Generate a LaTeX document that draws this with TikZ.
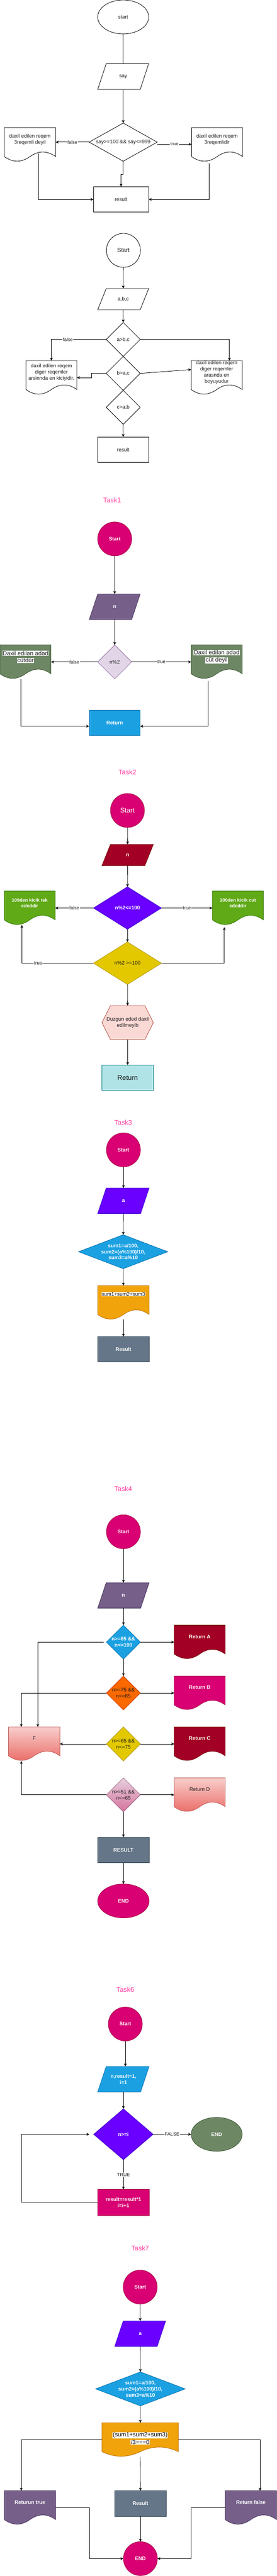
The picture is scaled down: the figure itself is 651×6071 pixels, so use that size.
\documentclass[tikz,border=0pt]{standalone}
\usepackage{fontspec}
\setmainfont{Liberation Sans}
\usetikzlibrary{arrows.meta,calc,shapes.geometric}
\newcommand{\fsz}[2]{\fontsize{#1}{#2}\selectfont}
\newcommand{\hlw}[1]{{\setlength{\fboxsep}{0.6pt}\colorbox{white}{#1}}}
\definecolor{ink}{HTML}{1A1A1A}
\definecolor{taskpink}{HTML}{FF3FA0}
\definecolor{cMag}{HTML}{D80073}\definecolor{cMagS}{HTML}{A50040}
\definecolor{cPur}{HTML}{76608A}\definecolor{cPurS}{HTML}{432D57}
\definecolor{cLil}{HTML}{E1D5E7}\definecolor{cLilS}{HTML}{9673A6}
\definecolor{cOliv}{HTML}{6D8764}\definecolor{cOlivS}{HTML}{3A5431}
\definecolor{cBlue}{HTML}{1BA1E2}\definecolor{cBlueS}{HTML}{006EAF}
\definecolor{cRed}{HTML}{A20025}\definecolor{cRedS}{HTML}{6F0000}
\definecolor{cVio}{HTML}{6A00FF}\definecolor{cVioS}{HTML}{3700CC}
\definecolor{cGrn}{HTML}{60A917}\definecolor{cGrnS}{HTML}{2D7600}
\definecolor{cYel}{HTML}{E3C800}\definecolor{cYelS}{HTML}{B09500}
\definecolor{cHex}{HTML}{FAD9D5}\definecolor{cHexS}{HTML}{AE4132}
\definecolor{cTeal}{HTML}{B0E3E6}\definecolor{cTealS}{HTML}{0E8088}
\definecolor{cOra}{HTML}{F0A30A}\definecolor{cOraS}{HTML}{BD7000}
\definecolor{cSla}{HTML}{647687}\definecolor{cSlaS}{HTML}{314354}
\definecolor{cOr}{HTML}{FA6800}\definecolor{cOrS}{HTML}{C73500}
\definecolor{cPinkT}{HTML}{E6D0DE}\definecolor{cPinkB}{HTML}{D5739D}\definecolor{cPinkS}{HTML}{996185}
\definecolor{cRgT}{HTML}{F8CECC}\definecolor{cRgB}{HTML}{EA6B66}\definecolor{cRgS}{HTML}{B85450}
\tikzset{
 sTxt/.style={inner sep=0pt, outer sep=0pt, align=center, font=\fsz{12}{14.4}, text=ink},
 sWt/.style={text=white, font=\fsz{12}{14.4}\bfseries},
 sHl/.style={text=ink, font=\fsz{14}{16.8}},
 sLn/.style={draw=black, line width=1pt},
 sArr/.style={draw=black, line width=1pt, -{Stealth[length=7pt,width=6.5pt,inset=2pt]}},
 sLbl/.style={fill=white, inner sep=1pt, font=\fsz{11}{13.2}, text=ink},
 sTtl/.style={inner sep=0pt, font=\fsz{16}{19.2}, text=taskpink},
 sPlain/.style={draw=black, fill=white, line width=1pt},
 sPlainEll/.style={ellipse, sPlain, sTxt},
 sPlainBox/.style={rectangle, sPlain, sTxt},
 sPur/.style={fill=cPur, draw=cPurS, line width=1pt},
 sLil/.style={fill=cLil, draw=cLilS, line width=1pt},
 sOliv/.style={fill=cOliv, draw=cOlivS, line width=1pt},
 sBlue/.style={fill=cBlue, draw=cBlueS, line width=1pt},
 sRed/.style={fill=cRed, draw=cRedS, line width=1pt},
 sVio/.style={fill=cVio, draw=cVioS, line width=1pt},
 sGrn/.style={fill=cGrn, draw=cGrnS, line width=1pt},
 sYel/.style={fill=cYel, draw=cYelS, line width=1pt},
 sHexF/.style={fill=cHex, draw=cHexS, line width=1pt},
 sOra/.style={fill=cOra, draw=cOraS, line width=1pt},
 sOr/.style={fill=cOr, draw=cOrS, line width=1pt},
 sMag/.style={fill=cMag, draw=cMagS, line width=1pt},
 sPinkG/.style={top color=cPinkT, bottom color=cPinkB, draw=cPinkS, line width=1pt},
 sRedG/.style={top color=cRgT, bottom color=cRgB, draw=cRgS, line width=1pt},
 sMagC/.style={circle, sMag, sTxt, sWt},
 sMagE/.style={ellipse, sMag, sTxt, sWt},
 sOlivE/.style={ellipse, sOliv, sTxt, sWt},
 sBlueBox/.style={rectangle, sBlue, sTxt, sWt},
 sTealBox/.style={rectangle, fill=cTeal, draw=cTealS, line width=1pt, sTxt},
 sSlaBox/.style={rectangle, fill=cSla, draw=cSlaS, line width=1pt, sTxt, sWt},
 sMagBox/.style={rectangle, sMag, sTxt, sWt},
}
% parallelogram: name, cx, cy, w, h, shape style, text style, text
\newcommand{\mkPara}[8]{%
 \path[#6] ({#2-#4/2},{#3+#5/2}) -- ({#2-#4/2+20},{#3-#5/2}) -- ({#2+#4/2},{#3-#5/2}) -- ({#2+#4/2-20},{#3+#5/2}) -- cycle;
 \node[sTxt,#7,minimum width=#4pt,minimum height=#5pt] (#1) at (#2,#3) {#8};}
% diamond
\newcommand{\mkDia}[8]{%
 \path[#6] ({#2},{#3-#5/2}) -- ({#2+#4/2},{#3}) -- ({#2},{#3+#5/2}) -- ({#2-#4/2},{#3}) -- cycle;
 \node[sTxt,#7,minimum width=#4pt,minimum height=#5pt] (#1) at (#2,#3) {#8};}
% hexagon
\newcommand{\mkHex}[8]{%
 \path[#6] ({#2-#4/2},{#3}) -- ({#2-#4/2+20},{#3-#5/2}) -- ({#2+#4/2-20},{#3-#5/2}) -- ({#2+#4/2},{#3}) -- ({#2+#4/2-20},{#3+#5/2}) -- ({#2-#4/2+20},{#3+#5/2}) -- cycle;
 \node[sTxt,#7,minimum width=#4pt,minimum height=#5pt] (#1) at (#2,#3) {#8};}
% document: name, x0, y0, w, h, shape style, text style, text y fraction, text
\newcommand{\mkDoc}[9]{%
 \path[#6] (#2,#3) -- ({#2+#4},#3) -- ({#2+#4},{#3+0.85*#5})
   .. controls ({#2+0.8333*#4},{#3+0.67*#5}) and ({#2+0.6667*#4},{#3+0.67*#5}) .. ({#2+0.5*#4},{#3+0.85*#5})
   .. controls ({#2+0.3333*#4},{#3+1.03*#5}) and ({#2+0.1667*#4},{#3+1.03*#5}) .. (#2,{#3+0.85*#5}) -- cycle;
 \node[sTxt,minimum width=#4pt,minimum height=#5pt] (#1) at ({#2+0.5*#4},{#3+0.5*#5}) {};
 \node[sTxt,#7] (#1t) at ({#2+0.5*#4},{#3+#8*#5}) {#9};}
\begin{document}
\begin{tikzpicture}[x=1pt,y=-1pt]
\fill[white] (0,0) rectangle (651,6071);
\useasboundingbox (0,0) rectangle (651,6071);

% ---------------- Chart 1
\node[sPlainEll, minimum width=120pt, minimum height=80pt] (c1s) at (290,40) {start};
\mkPara{c1in}{290}{180.5}{120}{61}{sPlain}{}{say}
\mkDia{c1d}{290}{335}{160}{90}{sPlain}{}{say>=100 \&\& say<=999}
\mkDoc{c1l}{10}{301}{121}{80}{sPlain}{}{0.35}{daxil edilen reqem\\3reqemli deyil}
\mkDoc{c1r}{451}{301}{120}{80}{sPlain}{}{0.35}{daxil edilen reqem\\3reqemlidir}
\node[sPlainBox, minimum width=130pt, minimum height=60pt] (c1res) at (285,470) {result};
\draw[sLn] (c1s) -- (c1in);
\draw[sArr] (c1in) -- (c1d);
\draw[sArr] (c1d.west) -- node[sLbl] (c1lf) {false} (c1d.west -| c1l.east);
\draw[sArr] ([yshift=-5pt]c1d.east) -- node[sLbl] (c1lt) {true} ([yshift=-5pt]c1d.east -| c1r.west);
\draw[sArr] (c1d.south) -- ++(0,31) -| (c1res.north);
\coordinate (c1lb) at (90,362);
\draw[sArr] (c1lb) |- (c1res.west);
\coordinate (c1rb) at (492,385);
\draw[sArr] (c1rb) |- (c1res.east);

% ---------------- Chart 2
\node[sPlainEll, circle, minimum size=80pt, font=\fsz{14}{16.8}] (c2s) at (290.5,590) {Start};
\mkPara{c2in}{290}{705}{120}{50}{sPlain}{}{a,b,c}
\mkDia{c2d1}{290}{800}{80}{80}{sPlain}{}{a>b.c}
\mkDia{c2d2}{290}{880}{80}{80}{sPlain}{}{b>a,c}
\mkDia{c2d3}{290}{960}{80}{80}{sPlain}{}{c>a,b}
\node[sPlainBox, minimum width=120pt, minimum height=60pt] (c2res) at (290,1060) {result};
\mkDoc{c2l}{61}{850}{120}{80}{sPlain}{}{0.35}{daxil edilen reqem\\diger reqemler\\arsinnda en kiciyidir.}
\mkDoc{c2r}{450}{850}{120}{80}{sPlain}{}{0.35}{daxil edilen reqem\\diger reqemler\\arasnda en\\boyuyudur}
\draw[sArr] (c2s) -- (c2in);
\draw[sArr] (c2in) -- (c2d1);
\draw[sArr] (c2d3) -- (c2res);
\draw[sArr] (c2d1.west) -| node[sLbl,pos=0.35] (c2lf) {false} (c2l.north);
\draw[sArr] (c2d1.east) -| ([xshift=30pt]c2r.north);
\draw[sArr] (c2d2.west) -- ++(-35,0) |- (c2l.east);
\draw[sArr] (c2d2.east) -- ([yshift=19pt]c2r.west);

% ---------------- Task1
\node[sTtl] (t1) at (264,1179) {Task1};
\node[sMagC, minimum size=80pt] (t1s) at (270,1270) {Start};
\mkPara{t1in}{270}{1430}{120}{60}{sPur}{sWt}{n}
\mkDia{t1d}{270}{1560}{80}{80}{sLil}{}{n\%2}
\mkDoc{t1l}{0}{1520}{120}{80}{sOliv}{sHl}{0.35}{\hlw{Daxil edilən ədəd}\\\hlw{cütdür}}
\mkDoc{t1r}{450}{1520}{120}{80}{sOliv}{sHl}{0.35}{\hlw{Daxil edilən ədəd}\\\hlw{cüt deyil}}
\node[sBlueBox, minimum width=120pt, minimum height=60pt] (t1ret) at (270,1703.5) {Return};
\draw[sArr] (t1s) -- (t1in);
\draw[sArr] (t1in) -- (t1d);
\draw[sArr] (t1d.west) -- node[sLbl] (t1lf) {false} (t1l.east);
\draw[sArr] (t1d.east) -- node[sLbl] (t1lt) {true} (t1r.west);
\coordinate (t1lb) at (48.5,1600);
\draw[sArr] (t1lb) |- ([yshift=-8pt]t1ret.west);
\coordinate (t1rb) at (490,1605);
\draw[sArr] (t1rb) |- ([yshift=-8pt]t1ret.east);

% ---------------- Task2
\node[sTtl] (t2) at (300,1819.5) {Task2};
\node[sMagC, minimum size=80pt, font=\fsz{16}{19.2}] (t2s) at (300,1910) {Start};
\mkPara{t2in}{300.5}{2015}{121}{50}{sRed}{sWt}{n}
\mkDia{t2d1}{300}{2140}{160}{100}{sVio}{sWt}{n\%2<=100}
\mkDoc{t2l}{10}{2100}{120}{80}{sGrn}{sWt,font=\fsz{11}{13.2}\bfseries}{0.35}{100den kicik tek\\ededdir}
\mkDoc{t2r}{500}{2100}{120}{80}{sGrn}{sWt,font=\fsz{11}{13.2}\bfseries}{0.35}{100den kicik cut\\ededdir}
\mkDia{t2d2}{300}{2270}{160}{100}{sYel}{}{n\%2 >=100}
\mkHex{t2hex}{300.5}{2410}{121}{80}{sHexF}{}{Duzgun eded daxil\\edilmeyib}
\node[sTealBox, minimum width=121pt, minimum height=60pt, font=\fsz{16}{19.2}] (t2ret) at (300.5,2540) {Return};
\draw[sArr] (t2s) -- (t2in);
\draw[sArr] (t2in) -- (t2d1);
\draw[sArr] (t2d1) -- (t2d2);
\draw[sArr] (t2d2) -- (t2hex);
\draw[sArr] (t2hex) -- (t2ret);
\draw[sArr] (t2d1.west) -- node[sLbl] (t2lf) {false} (t2l.east);
\draw[sArr] (t2d1.east) -- node[sLbl] (t2lt) {true} (t2r.west);
\draw[sArr] (t2d2.west) -| node[sLbl,pos=0.387] (t2lt2) {true} ([xshift=-18.5pt]t2l.south);
\draw[sArr] (t2d2.east) -| ([xshift=-32pt,yshift=-5pt]t2r.south);

% ---------------- Task3
\node[sTtl] (t3) at (290,2645) {Task3};
\node[sMagC, minimum size=80pt] (t3s) at (290.5,2710) {Start};
\mkPara{t3in}{290.5}{2830}{121}{60}{sVio}{sWt}{a}
\mkDia{t3d}{290}{2950}{210}{80}{sBlue}{sWt}{sum1=a/100,\\sum2=(a\%100)/10,\\sum3=a\%10}
\mkDoc{t3doc}{230}{3030}{121}{80}{sOra}{text=black}{0.255}{\hlw{sum1+sum2+sum3}}
\node[sSlaBox, minimum width=121pt, minimum height=60pt] (t3res) at (290.5,3180) {Result};
\draw[sArr] (t3s) -- (t3in);
\draw[sArr] (t3in) -- (t3d);
\draw[sArr] (t3d) -- (t3doc);
\draw[sArr] (t3doc.south) -- (t3res.north);

% ---------------- Task4
\node[sTtl] (t4) at (290,3509) {Task4};
\node[sMagC, minimum size=80pt] (t4s) at (290.5,3610) {Start};
\mkPara{t4in}{290.5}{3760}{121}{60}{sPur}{sWt}{n}
\mkDia{t4d1}{290.5}{3870}{80}{80}{sBlue}{sWt}{n>=85 \&\&\\n<=100}
\mkDia{t4d2}{290.5}{3990}{80}{80}{sOr}{}{n>=75 \&\&\\n<=85}
\mkDia{t4d3}{290.5}{4110}{80}{80}{sYel}{}{n>=65 \&\&\\n<=75}
\mkDia{t4d4}{290.5}{4230}{80}{80}{sPinkG}{}{n>=51 \&\&\\n<=65}
\mkDoc{t4A}{410}{3830}{120}{80}{sRed}{sWt}{0.34}{Return A}
\mkDoc{t4B}{410}{3950}{120}{80}{sMag}{sWt}{0.34}{Return B}
\mkDoc{t4C}{410}{4070}{120}{80}{sRed}{sWt}{0.34}{Return C}
\mkDoc{t4D}{410}{4190}{120}{80}{sRedG}{}{0.34}{Return D}
\mkDoc{t4F}{20}{4070}{121}{80}{sRedG}{}{0.34}{F}
\node[sSlaBox, minimum width=121pt, minimum height=60pt] (t4res) at (290.5,4360) {RESULT};
\node[sMagE, minimum width=121pt, minimum height=80pt] (t4end) at (290.5,4480) {END};
\draw[sArr] (t4s) -- (t4in);
\draw[sArr] (t4in) -- (t4d1);
\draw[sArr] (t4d1) -- (t4d2);
\draw[sArr] (t4d1.east) -- (t4A.west);
\draw[sArr] (t4d2.east) -- (t4B.west);
\draw[sArr] (t4d3.east) -- (t4C.west);
\draw[sArr] (t4d4.east) -- (t4D.west);
\draw[sArr] ([xshift=-6pt]t4d1.west) -| ([xshift=8.5pt]t4F.north);
\draw[sArr] (t4d2.west) -| ([xshift=-30.5pt]t4F.north);
\draw[sArr] (t4d3.west) -- (t4F.east);
\draw[sArr] (t4d4.west) -| ([xshift=-30.5pt]t4F.south);
\draw[sArr] (t4d4) -- (t4res);
\draw[sArr] (t4res) -- (t4end);

% ---------------- Task6
\node[sTtl] (t6) at (295,4689.5) {Task6};
\node[sMagC, minimum size=80pt] (t6s) at (295,4770) {Start};
\mkPara{t6in}{290.5}{4900}{121}{60}{sBlue}{sWt}{n,result=1,\\i=1}
\mkDia{t6d}{290.5}{5030}{140}{120}{sVio}{sWt}{n>=i}
\node[sOlivE, minimum width=120pt, minimum height=80pt] (t6end) at (510,5030) {END};
\node[sMagBox, minimum width=121pt, minimum height=61pt] (t6box) at (290.5,5190.5) {result=result*1\\i=i+1};
\draw[sArr] (t6s) -- (t6s |- t6in.north);
\draw[sArr] (t6in) -- (t6d);
\draw[sArr] (t6d.east) -- node[sLbl] (t6lf) {FALSE} (t6end.west);
\draw[sArr] (t6d.south) -- node[sLbl] (t6lt) {TRUE} (t6box.north);
\draw[sArr] (t6box.west) -- ++(-180,0) |- ([xshift=-10pt]t6d.west);

% ---------------- Task7
\node[sTtl] (t7) at (330,5299) {Task7};
\node[sMagC, minimum size=80pt] (t7s) at (330,5390) {Start};
\mkPara{t7in}{330}{5500}{120}{60}{sVio}{sWt}{a}
\mkDia{t7d}{330.5}{5630}{211}{80}{sBlue}{sWt}{sum1=a/100,\\sum2=(a\%100)/10,\\sum3=a\%10}
\mkDoc{t7doc}{240}{5710}{180}{80}{sOra}{text=black,font=\fsz{14}{18}}{0.46}{\hlw{(sum1+sum2+sum3)}\\\hlw{/3===0}}
\mkDoc{t7T}{10}{5870}{121}{80}{sPur}{sWt}{0.34}{Returun true}
\node[sSlaBox, minimum width=121pt, minimum height=60pt] (t7res) at (330.5,5900) {Result};
\mkDoc{t7F}{530}{5870}{121}{80}{sPur}{sWt}{0.34}{Return false}
\node[sMagC, minimum size=80pt] (t7end) at (330.5,6030) {END};
\draw[sArr] (t7s) -- (t7in);
\draw[sArr] (t7in) -- (t7d);
\draw[sArr] (t7d) -- (t7doc);
\draw[sArr] (t7doc.west) -| ([xshift=-20.5pt]t7T.north);
\draw[sArr] (t7doc.east) -| ([xshift=21.5pt]t7F.north);
\draw[sArr] (t7doc.south) -- (t7res.north);
\draw[sArr] (t7res) -- (t7end);
\draw[sArr] (t7T.east) -- ++(79,0) |- (t7end.west);
\draw[sArr] (t7F.west) -- ++(-80,0) |- (t7end.east);
\end{tikzpicture}
\end{document}
